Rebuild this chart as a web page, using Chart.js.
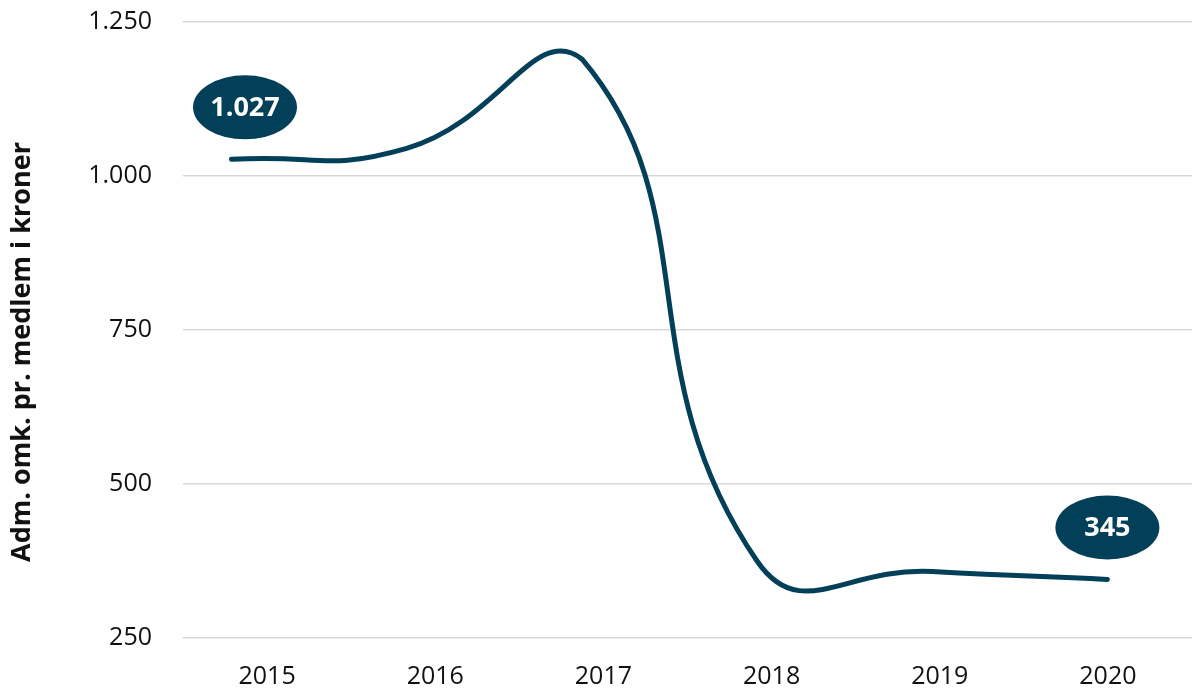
<!DOCTYPE html>
<html lang="da">
<head>
<meta charset="utf-8">
<title>Adm. omk. pr. medlem</title>
<script src="https://cdn.jsdelivr.net/npm/chart.js@4.4.1/dist/chart.umd.min.js"></script>
<style>
    html, body { margin: 0; padding: 0; background: #fff; }
    #wrap { width: 1198px; height: 690px; }
</style>
</head>
<body>
<div id="wrap"><canvas id="costChart" width="1198" height="690"></canvas></div>
<script>
// data
const years = ['2015', '2016', '2017', '2018', '2019', '2020'];
const costPerMember = [1027, 1045, 1190, 375, 358, 345];
const labelledPoints = [0, 5]; // kun første og sidste punkt får en boble
const yTicks = [250, 500, 750, 1000, 1250];
const yTitle = 'Adm. omk. pr. medlem i kroner';

const colors = {
    line: '#023f58',
    grid: '#d9d9d9',
    text: '#111111'
};

function formatDk(n) {
    return String(n).replace(/\B(?=(\d{3})+(?!\d))/g, '.');
}

// bobler med værdi over punktet
const bubbleLabels = {
    id: 'bubbleLabels',
    afterDatasetsDraw(chart) {
        const ctx = chart.ctx;
        const meta = chart.getDatasetMeta(0);
        const area = chart.chartArea;
        ctx.save();
        labelledPoints.forEach(i => {
            const pt = meta.data[i];
            let cx = Math.max(pt.x, area.left + 62);
            cx = Math.min(cx, area.right - 54);
            const cy = pt.y - 52;
            ctx.fillStyle = colors.line;
            ctx.beginPath();
            ctx.ellipse(cx, cy, 52, 32, 0, 0, Math.PI * 2);
            ctx.fill();
            ctx.fillStyle = '#ffffff';
            ctx.font = 'bold 27px "Open Sans", sans-serif';
            ctx.textAlign = 'center';
            ctx.textBaseline = 'middle';
            ctx.fillText(formatDk(costPerMember[i]), cx, cy + 1);
        });
        ctx.restore();
    }
};

// aksetitel, centreret på hele lærredet (ikke kun plotområdet)
const axisTitle = {
    id: 'axisTitle',
    afterDraw(chart) {
        const ctx = chart.ctx;
        ctx.save();
        ctx.translate(22, chart.height / 2 + 7);
        ctx.rotate(-Math.PI / 2);
        ctx.fillStyle = colors.text;
        ctx.font = 'bold 27px "Open Sans", sans-serif';
        ctx.textAlign = 'center';
        ctx.textBaseline = 'middle';
        ctx.fillText(yTitle, 0, 0);
        ctx.restore();
    }
};

const ctx = document.getElementById('costChart');
new Chart(ctx, {
    type: 'line',
    data: {
        labels: years,
        datasets: [{
            data: costPerMember.map((v, i) => ({ x: i, y: v })),
            xAxisID: 'xl',
            borderColor: colors.line,
            borderWidth: 5,
            borderCapStyle: 'round',
            tension: 0.5,
            pointRadius: 0,
            fill: false
        }]
    },
    options: {
        responsive: false,
        animation: false,
        layout: { padding: { top: 22, right: 6, left: 0, bottom: 0 } },
        plugins: {
            legend: { display: false },
            tooltip: { enabled: false }
        },
        scales: {
            x: {
                type: 'category',
                offset: true,
                grid: { display: false },
                border: { display: false },
                afterFit(scale) {
                    scale.height = 52;
                },
                ticks: {
                    color: colors.text,
                    font: { family: '"Open Sans", sans-serif', size: 25 },
                    padding: 16,
                    maxRotation: 0
                }
            },
            xl: {
                type: 'linear',
                display: false,
                min: -0.277,
                max: 5.483
            },
            y: {
                min: 250,
                max: 1250,
                afterBuildTicks(scale) {
                    scale.ticks = yTicks.map(v => ({ value: v }));
                },
                afterFit(scale) {
                    scale.width = 183;
                    scale.paddingTop = 0;
                    scale.paddingBottom = 0;
                },
                grid: { color: colors.grid, lineWidth: 1.5, drawTicks: false },
                border: { display: false },
                ticks: {
                    color: colors.text,
                    font: { family: '"Open Sans", sans-serif', size: 25 },
                    padding: 31,
                    callback: v => formatDk(v)
                }
            }
        }
    },
    plugins: [bubbleLabels, axisTitle]
});
</script>
</body>
</html>
